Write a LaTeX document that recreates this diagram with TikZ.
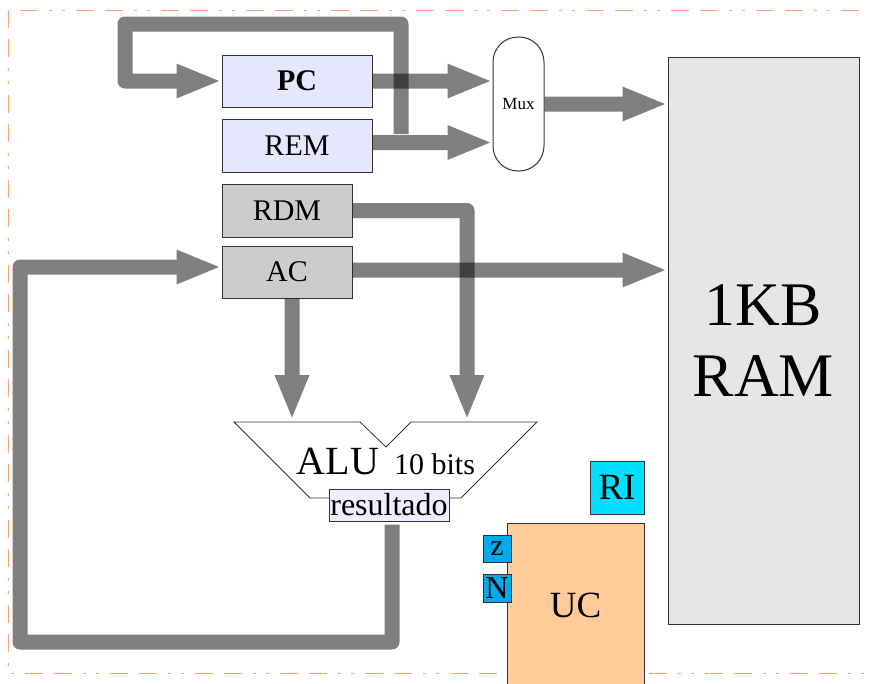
\documentclass[tikz,border=0pt]{standalone}
\usepackage{fontspec}
\setmainfont{Liberation Serif}
\usetikzlibrary{positioning,arrows.meta}
\definecolor{registro}{RGB}{230,230,255}
\definecolor{dados}{RGB}{204,204,204}
\definecolor{memoria}{RGB}{230,230,230}
\definecolor{instrucao}{RGB}{0,221,255}
\definecolor{flag}{RGB}{0,170,235}
\definecolor{controle}{RGB}{255,204,153}
\definecolor{saida}{RGB}{238,238,255}
\definecolor{moldura}{RGB}{255,160,110}
\definecolor{contorno}{RGB}{51,51,51}
\newcommand{\tam}[1]{\fontsize{#1}{#1}\selectfont}

\begin{document}
\begin{tikzpicture}[x=1pt, y=-1pt,
  caixa/.style={draw=contorno, line width=1pt, inner sep=0pt},
  barramento/.style={line width=15pt, line join=round, -{Triangle[length=45pt,width=31pt]}}]
  \useasboundingbox (0,0) rectangle (870,683);
  \draw[moldura, line width=1pt, dash pattern=on 18pt off 11pt on 18pt off 11pt on 3pt off 10pt on 3pt off 11pt] (8,10) rectangle (890,673);
  % registradores
  \node[caixa, fill=registro, minimum width=150pt, minimum height=52pt, font=\tam{30}\bfseries] (PC) at (297,81) {PC};
  \node[caixa, fill=registro, minimum width=150pt, minimum height=53pt, font=\tam{30}, below=11pt of PC] (REM) {REM};
  \node[caixa, fill=dados, minimum width=130pt, minimum height=53pt, font=\tam{30}] (RDM) at (287,210.5) {RDM};
  \node[caixa, fill=dados, minimum width=130pt, minimum height=52pt, font=\tam{30}, below=8pt of RDM] (AC) {AC};
  \node[draw=contorno, line width=1pt, fill=white, rounded corners=25pt, minimum width=51pt, minimum height=134pt, inner sep=0pt, font=\tam{17}] (Mux) at (518.5,104) {Mux};
  \node[caixa, fill=memoria, minimum width=191pt, minimum height=567pt, align=center, font=\fontsize{62}{71}\selectfont] (RAM) at (763.5,340.5) {1KB\\RAM};
  % ULA
  \draw[contorno, fill=white, line width=0.8pt] (234,422) -- (360,422) -- (386,447) -- (411,422) -- (537,422) -- (461,498) -- (310,498) -- cycle;
  \node[anchor=base] (ALU) at (386,474) {\tam{40}ALU\hspace{15pt}\tam{30}10 bits};
  \node[caixa, fill=saida, minimum width=120pt, minimum height=32pt, font=\tam{32}] (res) at (389,505) {resultado};
  % controle
  \node[caixa, fill=controle, minimum width=137pt, minimum height=164pt, font=\tam{37}] (UC) at (575.5,605) {UC};
  \node[caixa, fill=instrucao, minimum width=54pt, minimum height=53pt, font=\tam{37}] (RI) at (617,487.5) {RI};
  \node[caixa, fill=flag, minimum width=28pt, minimum height=27pt, font=\tam{30}] (z) at (497,548.5) {z};
  \node[caixa, fill=flag, minimum width=28pt, minimum height=28pt, font=\tam{32}, below=11pt of z] (N) {N};
  \coordinate (aluA) at (292,420);
  \coordinate (aluB) at (467,420);
  \coordinate (desvio) at (401,134);
  % barramentos
  \begin{scope}[transparency group, opacity=.5]
    \draw[barramento] (PC.east) -- (PC.east -| Mux.west);
    \draw[barramento] ([yshift=3pt]REM.east) -- ([yshift=3pt]REM.east -| Mux.west);
    \draw[barramento] (Mux.east) -- (Mux.east -| RAM.west);
    \draw[barramento] ([yshift=2pt]AC.east) -- ([yshift=2pt]AC.east -| RAM.west);
    \draw[barramento] ([xshift=5pt]AC.south) -- (aluA);
    \draw[barramento, shorten <=3pt] ([xshift=3pt]res.south) |- (20,642) |- ([yshift=5pt]AC.west);
  \end{scope}
  \begin{scope}[transparency group, opacity=.5]
    \draw[barramento] (desvio) |- (125,24) |- (PC.west);
  \end{scope}
  \begin{scope}[transparency group, opacity=.5]
    \draw[barramento] (RDM.east) -| (aluB);
  \end{scope}
\end{tikzpicture}
\end{document}
